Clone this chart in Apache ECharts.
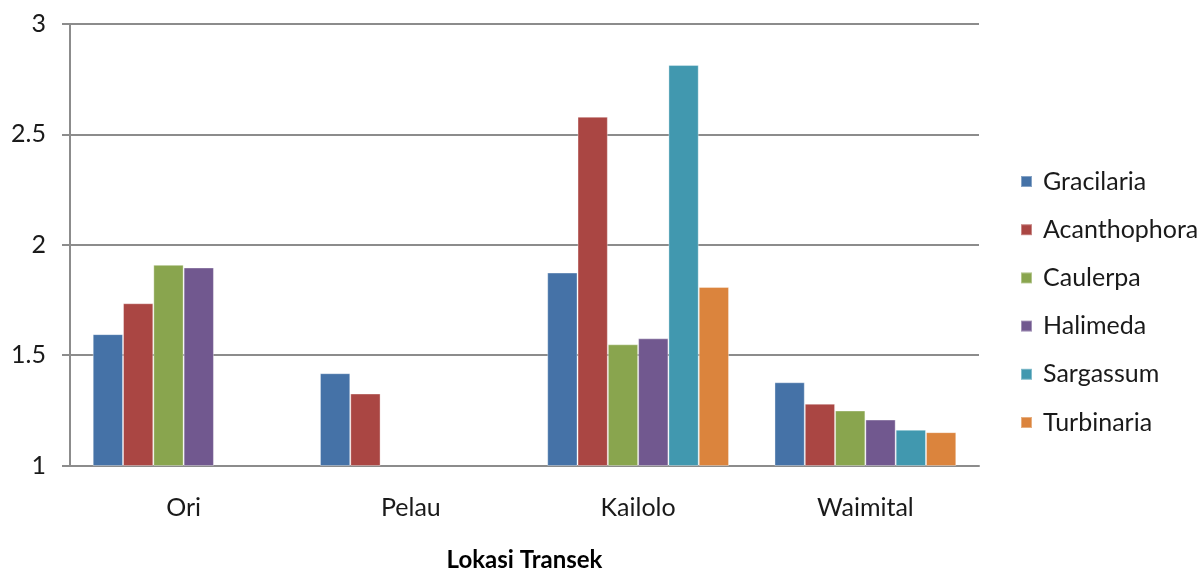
<!DOCTYPE html>
<html>
<head>
<meta charset="utf-8">
<script src="https://cdn.jsdelivr.net/npm/echarts@6/dist/echarts.min.js"></script>
<style>
  html, body { margin: 0; padding: 0; background: #fff; }
  #chart { width: 1201px; height: 569px; }
</style>
</head>
<body>
<div id="chart"></div>
<script>
// Transect locations on the category axis
const locations = ['Ori', 'Pelau', 'Kailolo', 'Waimital'];

// Index value per seaweed genus at each location (null = not found)
const gracilaria   = [1.595, 1.418, 1.874, 1.377];
const acanthophora = [1.735, 1.326, 2.580, 1.280];
const caulerpa     = [1.909, null,  1.549, 1.249];
const halimeda     = [1.897, null,  1.576, 1.208];
const sargassum    = [null,  null,  2.814, 1.162];
const turbinaria   = [null,  null,  1.809, 1.151];

const seriesNames = ['Gracilaria', 'Acanthophora', 'Caulerpa', 'Halimeda', 'Sargassum', 'Turbinaria'];
const seriesData  = [gracilaria, acanthophora, caulerpa, halimeda, sargassum, turbinaria];
const colors      = ['#4572A7', '#AA4643', '#89A54E', '#71588F', '#4198AF', '#DB843D'];

const axisTitle = 'Lokasi Transek';
const FONT = 'Lato, "Open Sans", sans-serif';

const chart = echarts.init(document.getElementById('chart'), null, { renderer: 'canvas' });

chart.setOption({
  animation: false,
  color: colors,
  textStyle: { fontFamily: FONT },
  grid: { left: 70, right: 222, top: 24, bottom: 103.5, containLabel: false, outerBoundsMode: 'none' },
  legend: {
    orient: 'vertical',
    left: 1020,
    top: 169,
    padding: 0,
    itemWidth: 11,
    itemHeight: 11,
    itemGap: 23.2,
    icon: 'rect',
    textStyle: { fontSize: 25, color: '#1a1a1a', fontFamily: FONT, lineHeight: 25, padding: [0, 0, 0, 6] },
    data: seriesNames
  },
  xAxis: {
    type: 'category',
    data: locations,
    name: axisTitle,
    nameLocation: 'middle',
    nameGap: 83,
    nameTextStyle: { fontSize: 24, fontWeight: 'bold', color: '#000', fontFamily: FONT },
    axisLine: { show: true, lineStyle: { color: '#8c8c8c', width: 2 } },
    axisTick: { show: false },
    axisLabel: { fontSize: 25, color: '#1a1a1a', margin: 30, fontFamily: FONT },
    splitLine: { show: false }
  },
  yAxis: {
    type: 'value',
    min: 1,
    max: 3,
    interval: 0.5,
    axisLine: { show: true, lineStyle: { color: '#8c8c8c', width: 2 } },
    axisTick: { show: true, length: 8, lineStyle: { color: '#8c8c8c', width: 2 } },
    axisLabel: { fontSize: 25, color: '#1a1a1a', margin: 24, fontFamily: FONT },
    splitLine: { show: true, lineStyle: { color: '#8c8c8c', width: 2 } }
  },
  series: seriesNames.map((name, i) => ({
    name,
    type: 'bar',
    data: seriesData[i],
    barGap: '0%',
    barCategoryGap: '20%',
    itemStyle: { color: colors[i], borderColor: 'rgba(255,255,255,0.35)', borderWidth: 1 }
  }))
});
</script>
</body>
</html>
